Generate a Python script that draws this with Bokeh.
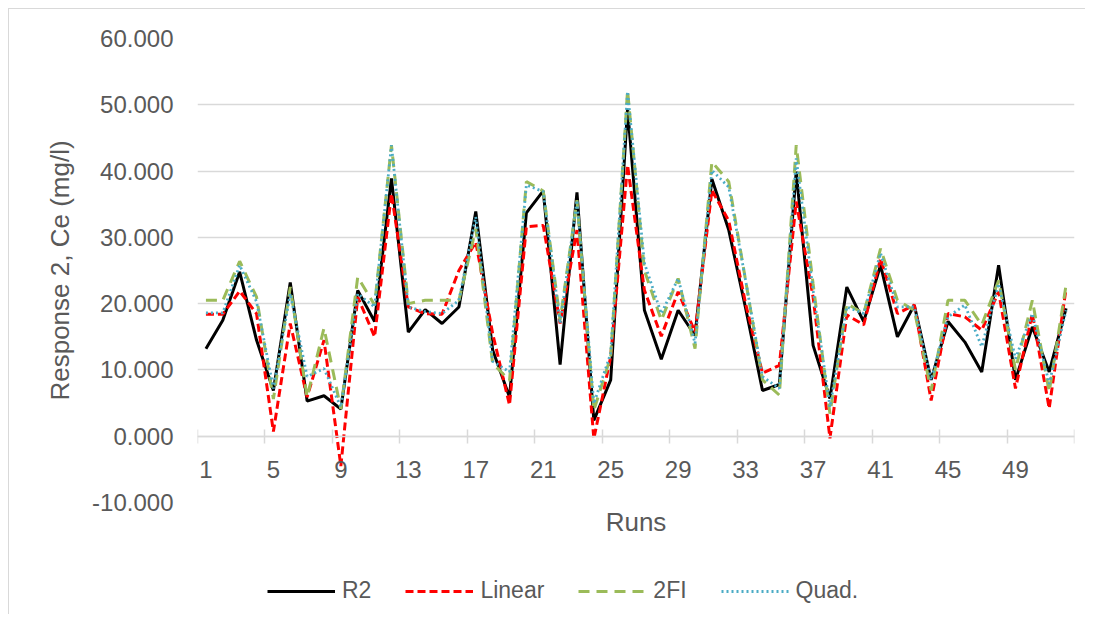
from bokeh.plotting import figure
from bokeh.layouts import column
from bokeh.models import (Range1d, FixedTicker, NumeralTickFormatter, LinearAxis,
                          Legend, LegendItem, Title)
from bokeh.embed import file_html
from bokeh.resources import INLINE

runs = list(range(1, 53))
label_runs = [1, 5, 9, 13, 17, 21, 25, 29, 33, 37, 41, 45, 49]
group_edges = [0.5 + 4 * k for k in range(14)]
y_ticks = [-10, 0, 10, 20, 30, 40, 50, 60]
series_names = ["R2", "Linear", "2FI", "Quad."]

r2 = [13.2, 17.5, 24.8, 14.5, 6.9, 23.2, 5.3, 6.1, 4.1, 22.0,
      17.3, 38.9, 15.7, 19.1, 17.0, 19.5, 33.9, 13.0, 5.9, 33.7,
      37.0, 10.8, 36.8, 2.4, 8.5, 49.4, 19.0, 11.6, 19.0, 15.2,
      38.8, 31.1, 19.3, 6.9, 7.8, 39.9, 13.7, 5.7, 22.5, 17.3,
      25.8, 15.0, 19.8, 8.5, 17.3, 14.2, 9.7, 25.8, 8.5, 16.5,
      9.7, 19.3]
linear = [18.4, 18.4, 21.9, 18.5, 0.7, 17.0, 5.9, 14.5, -4.5, 21.0,
          15.0, 36.6, 19.5, 18.5, 18.4, 25.0, 29.3, 15.5, 4.7, 31.6,
          31.8, 17.0, 31.1, -0.4, 12.0, 40.9, 22.0, 15.1, 21.8, 15.7,
          37.1, 32.5, 20.0, 9.5, 10.7, 35.4, 21.0, -0.3, 18.3, 16.8,
          26.8, 18.5, 19.8, 5.4, 18.5, 18.0, 16.0, 21.8, 7.2, 18.5,
          4.2, 22.3]
two_fi = [20.5, 20.5, 26.4, 21.0, 5.6, 22.5, 5.9, 16.3, 4.1, 24.0,
          19.8, 43.9, 20.0, 20.5, 20.5, 20.5, 31.3, 11.0, 8.4, 38.4,
          37.0, 17.5, 35.6, 3.9, 12.0, 52.2, 25.0, 17.5, 23.8, 13.2,
          41.4, 38.4, 23.5, 8.5, 6.2, 43.9, 23.0, 3.4, 20.0, 18.5,
          28.3, 20.5, 19.0, 6.9, 20.5, 20.5, 16.8, 23.5, 10.0, 20.5,
          6.7, 22.8]
quad = [18.6, 18.6, 25.8, 20.3, 7.2, 21.5, 9.0, 10.2, 4.4, 21.5,
        19.5, 43.9, 19.5, 18.8, 18.5, 20.5, 33.1, 11.3, 9.7, 37.9,
        36.9, 17.0, 35.6, 4.9, 12.5, 52.0, 26.1, 18.5, 23.8, 14.0,
        40.1, 37.6, 23.5, 9.0, 7.2, 41.9, 22.0, 4.4, 19.5, 18.5,
        27.6, 19.5, 19.5, 8.5, 18.0, 19.8, 13.5, 23.0, 11.7, 18.5,
        7.9, 19.0]

FONT = "Liberation Sans"
TXT = "#595959"
GRID = "#d9d9d9"
styles = [dict(line_color="black", line_width=3.0),
          dict(line_color="#ff0000", line_width=3.0, line_dash="8 4"),
          dict(line_color="#9bbb59", line_width=3.0, line_dash="11 7"),
          dict(line_color="#4bacc6", line_width=2.8, line_dash="2 3")]
all_series = [r2, linear, two_fi, quad]

p = figure(width=1077, height=606, output_backend="svg", toolbar_location=None,
           x_range=Range1d(0.5, 52.5), y_range=Range1d(-10, 60),
           x_axis_type=None,
           min_border_left=188, min_border_right=12, min_border_top=29,
           min_border_bottom=113)
p.outline_line_color = None
p.background_fill_color = "white"
p.border_fill_color = "white"
p.margin = (8, 0, 0, 8)
p.styles = {"border-left": "1px solid #d9d9d9", "border-top": "1px solid #d9d9d9"}

# y axis
yax = p.yaxis[0]
yax.ticker = FixedTicker(ticks=y_ticks)
yax.formatter = NumeralTickFormatter(format="0.000")
yax.axis_line_color = None
yax.major_tick_line_color = None
yax.minor_tick_line_color = None
yax.major_label_standoff = 18
yax.major_label_text_font = FONT
yax.major_label_text_font_size = "24px"
yax.major_label_text_color = TXT
yax.axis_label = "Response 2, Ce (mg/l)"
yax.axis_label_text_font = FONT
yax.axis_label_text_font_size = "26px"
yax.axis_label_text_font_style = "normal"
yax.axis_label_text_color = TXT
yax.axis_label_standoff = 14

p.ygrid.ticker = FixedTicker(ticks=y_ticks)
p.ygrid.grid_line_color = GRID
p.ygrid.grid_line_width = 1.4

# x axis title (closest to the frame)
p.add_layout(Title(text="Runs", align="center", text_font=FONT,
                   text_font_size="26px", text_font_style="normal",
                   text_color=TXT, standoff=4), "below")

# category axis crossing at zero: labels centred on runs, tick marks between groups
label_axis = LinearAxis(ticker=FixedTicker(ticks=label_runs, minor_ticks=group_edges),
                        fixed_location=0,
                        axis_line_color=GRID, axis_line_width=1.5,
                        major_tick_line_color=None,
                        major_tick_in=0, major_tick_out=0,
                        minor_tick_line_color=GRID, minor_tick_line_width=1.5,
                        minor_tick_in=7, minor_tick_out=7,
                        major_label_standoff=18,
                        major_label_text_font=FONT,
                        major_label_text_font_size="24px",
                        major_label_text_color=TXT)
p.add_layout(label_axis, "below")

for ys, st in zip(all_series, styles):
    p.line(runs, ys, **st)

# legend strip: same series, outside its (empty) view, only the legend shows
q = figure(width=1077, height=40, output_backend="svg", toolbar_location=None,
           x_range=Range1d(1000, 1001), y_range=Range1d(1000, 1001),
           x_axis_type=None, y_axis_type=None,
           min_border_left=0, min_border_right=0, min_border_top=0,
           min_border_bottom=0)
q.outline_line_color = None
q.grid.visible = False
q.background_fill_color = "white"
q.border_fill_color = "white"
q.margin = (-44, 0, 0, 8)
q.styles = {"border-left": "1px solid #d9d9d9"}

items = []
for name, ys, st in zip(series_names, all_series, styles):
    r = q.line(runs, ys, **st)
    items.append(LegendItem(label=name, renderers=[r]))

legend = Legend(items=items, orientation="horizontal", location=(70, 6),
                border_line_color=None, background_fill_alpha=0,
                label_text_font=FONT, label_text_font_size="23px",
                label_text_color=TXT, glyph_width=68, glyph_height=20,
                spacing=34, padding=0, margin=0, label_standoff=7)
q.add_layout(legend, "center")

layout = column(p, q, spacing=0)
open("out.html", "w").write(file_html(layout, INLINE))
